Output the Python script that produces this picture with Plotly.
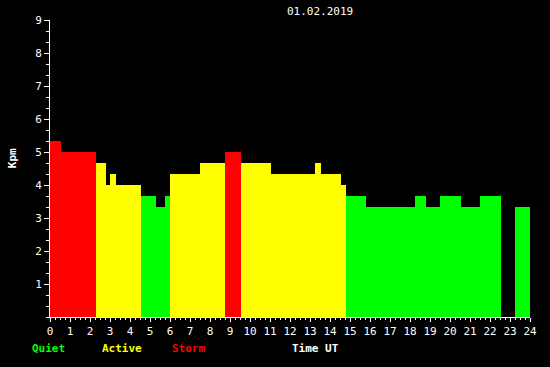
import plotly.graph_objects as go

# Segments of the Kpm index (hours UT) and values
seg_start = [0.0, 0.55, 2.28, 2.8, 3.0, 3.3, 4.53, 5.3, 5.75, 6.0, 7.5, 8.75, 9.55,
             11.05, 13.25, 13.55, 14.55, 14.78, 15.8, 18.25, 18.8, 19.5, 20.55, 21.5, 23.25]
seg_end = [0.55, 2.28, 2.8, 3.0, 3.3, 4.53, 5.3, 5.75, 6.0, 7.5, 8.75, 9.55, 11.05,
           13.25, 13.55, 14.55, 14.78, 15.8, 18.25, 18.8, 19.5, 20.55, 21.5, 22.55, 24.0]
kpm = [5.33, 5.0, 4.67, 4.0, 4.33, 4.0, 3.67, 3.33, 3.67, 4.33, 4.67, 5.0, 4.67,
       4.33, 4.67, 4.33, 4.0, 3.67, 3.33, 3.67, 3.33, 3.67, 3.33, 3.67, 3.33]

x_ticks = list(range(0, 25))
y_ticks = list(range(1, 10))
date_label = "01.02.2019"

def level_color(v):
    if v >= 5:
        return "#FF0000"
    if v >= 4:
        return "#FFFF00"
    return "#00FF00"

mids = [(a + b) / 2 for a, b in zip(seg_start, seg_end)]
widths = [b - a for a, b in zip(seg_start, seg_end)]
colors = [level_color(v) for v in kpm]

fig = go.Figure(go.Bar(x=mids, y=kpm, width=widths, marker=dict(color=colors, line=dict(width=0)),
                       hoverinfo="skip"))

font_reg = "DejaVu Sans Mono"

fig.update_layout(
    width=550, height=367,
    margin=dict(l=50, r=20, t=20, b=50),
    paper_bgcolor="black", plot_bgcolor="black",
    showlegend=False, bargap=0,
    xaxis=dict(range=[0, 24], tickvals=x_ticks, ticktext=[str(t) for t in x_ticks],
               showgrid=False, zeroline=False, showline=True, linecolor="white", linewidth=1,
               ticks="outside", ticklen=4, tickcolor="white", tickwidth=1,
               minor=dict(dtick=0.25, tick0=0, ticks="outside", ticklen=2, tickcolor="white", showgrid=False),
               tickfont=dict(family=font_reg, size=11, color="white"), layer="below traces", fixedrange=True),
    yaxis=dict(range=[0, 9], tickvals=y_ticks, ticktext=[str(t) for t in y_ticks],
               showgrid=False, zeroline=False, showline=True, linecolor="white", linewidth=1,
               ticks="outside", ticklen=5, tickcolor="white", tickwidth=1,
               minor=dict(dtick=1/3, tick0=0, ticks="outside", ticklen=3, tickcolor="white", showgrid=False),
               tickfont=dict(family=font_reg, size=11, color="white"), layer="below traces", fixedrange=True),
    annotations=[
        dict(text=date_label, x=0.5625, y=1.027, xref="paper", yref="paper", showarrow=False,
             xanchor="center", yanchor="middle", font=dict(family=font_reg, size=11, color="white")),
        dict(text="<b>Kpm</b>", x=-0.079, y=0.535, xref="paper", yref="paper", showarrow=False, textangle=-90,
             xanchor="center", yanchor="middle", font=dict(family=font_reg, size=11, color="white")),
        dict(text="<b>Quiet</b>", x=-0.0417, y=-0.1077, xref="paper", yref="paper", showarrow=False,
             xanchor="left", yanchor="middle", font=dict(family=font_reg, size=11, color="#00FF00")),
        dict(text="<b>Active</b>", x=0.104, y=-0.1077, xref="paper", yref="paper", showarrow=False,
             xanchor="left", yanchor="middle", font=dict(family=font_reg, size=11, color="#FFFF00")),
        dict(text="<b>Storm</b>", x=0.25, y=-0.1077, xref="paper", yref="paper", showarrow=False,
             xanchor="left", yanchor="middle", font=dict(family=font_reg, size=11, color="#FF0000")),
        dict(text="<b>Time UT</b>", x=0.5, y=-0.1077, xref="paper", yref="paper", showarrow=False,
             xanchor="left", yanchor="middle", font=dict(family=font_reg, size=11, color="white")),
    ],
)

fig.write_html(
    "out.html",
    config={"displayModeBar": False, "staticPlot": True},
    post_script="document.documentElement.style.backgroundColor='black';"
                "document.body.style.backgroundColor='black';"
                "document.body.style.margin='0';document.body.style.overflow='hidden';",
)
